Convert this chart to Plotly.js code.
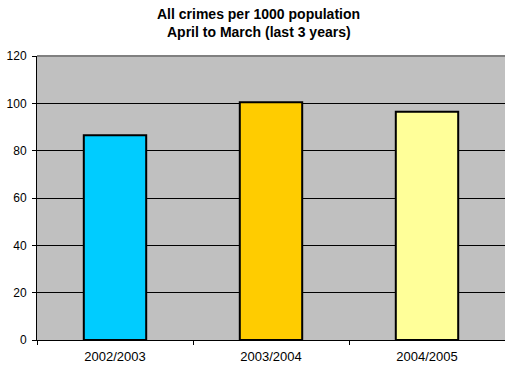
<!DOCTYPE html>
<html>
<head>
<meta charset="utf-8">
<script src="https://cdn.plot.ly/plotly-3.0.1.min.js"></script>
<style>html,body{margin:0;padding:0;background:#fff;}#chart{width:505px;height:370px;}</style>
</head>
<body>
<div id="chart"></div>
<script>
var categories = ["2002/2003", "2003/2004", "2004/2005"];
var crimeRates = [86.5, 100.5, 96.4];
var barColors = ["#00CCFF", "#FFCC00", "#FFFF99"];
var yTickValues = [0, 20, 40, 60, 80, 100, 120];
var titleLines = ["All crimes per 1000 population", "April to March (last 3 years)"];

var trace = {
  type: "bar",
  x: categories,
  y: crimeRates,
  width: 0.4,
  marker: {color: barColors, line: {color: "#000000", width: 2}},
  hoverinfo: "x+y"
};

var plotTop = 56, plotBottom = 340;
function paperY(px) { return (plotBottom - px) / (plotBottom - plotTop); }

var layout = {
  width: 505,
  height: 370,
  margin: {l: 37, r: 0, t: plotTop, b: 370 - plotBottom, pad: 0},
  paper_bgcolor: "#FFFFFF",
  plot_bgcolor: "#C0C0C0",
  font: {family: "Liberation Sans, Arial, sans-serif", color: "#000000", size: 12},
  showlegend: false,
  xaxis: {
    type: "category",
    showline: true, linecolor: "#000000", linewidth: 1,
    ticks: "outside", ticklen: 4, tickcolor: "#000000", tickson: "boundaries",
    showgrid: false,
    ticklabelstandoff: 4,
    tickfont: {size: 13}
  },
  yaxis: {
    range: [0, 120],
    tickvals: yTickValues,
    showline: true, linecolor: "#000000", linewidth: 1,
    ticks: "outside", ticklen: 4, tickcolor: "#000000",
    showgrid: true, gridcolor: "#000000", gridwidth: 1,
    zeroline: false,
    ticklabelstandoff: 3,
    tickfont: {size: 12}
  },
  annotations: [
    {text: "<b>" + titleLines[0] + "</b>", xref: "paper", yref: "paper", x: 0.474, y: paperY(14),
     xanchor: "center", yanchor: "middle", showarrow: false, font: {size: 14}},
    {text: "<b>" + titleLines[1] + "</b>", xref: "paper", yref: "paper", x: 0.474, y: paperY(32),
     xanchor: "center", yanchor: "middle", showarrow: false, font: {size: 14}}
  ],
  shapes: [{
    type: "line", xref: "paper", yref: "paper",
    x0: 0, x1: 1, y0: 1, y1: 1,
    line: {color: "#808080", width: 2}
  }]
};

Plotly.newPlot("chart", [trace], layout, {displayModeBar: false, staticPlot: true});
</script>
</body>
</html>
